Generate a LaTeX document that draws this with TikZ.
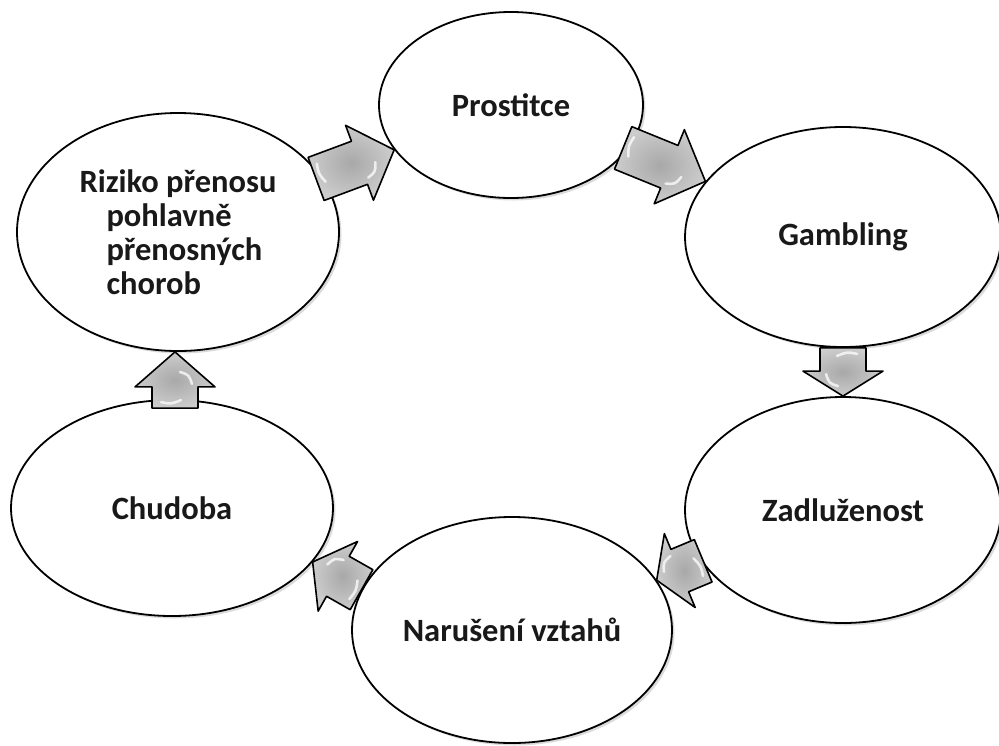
\documentclass[tikz,border=0pt]{standalone}
\usepackage{fontspec}
\setmainfont{Carlito}
\usetikzlibrary{shapes.geometric,calc,shadows}

\tikzset{
  bubble/.style={ellipse, draw=black, line width=1.8pt, fill=white, inner sep=0pt,
    drop shadow={shadow xshift=2.5pt, shadow yshift=-2.5pt, fill=black, opacity=.14},
    font=\bfseries\fontsize{32.5}{34}\selectfont, text=black!90},
  arrowbody/.style={draw=black, line width=1.6pt, line join=round,
    inner color=black!34, outer color=black!20},
  gloss/.style={draw=white, line width=2.6pt, line cap=round, opacity=.75}
}

% shaft and head half-widths of the block arrows
\def\baShaft{23}
\def\baHead{40}

% block arrow from coordinate #1 to coordinate #2,
% head length #3, tail pulled back by #4
\newcommand\blockarrow[4]{%
  \pgfmathanglebetweenpoints{\pgfpointanchor{#1}{center}}{\pgfpointanchor{#2}{center}}%
  \let\baAng\pgfmathresult
  \pgfpointdiff{\pgfpointanchor{#1}{center}}{\pgfpointanchor{#2}{center}}%
  \pgfgetlastxy{\baDx}{\baDy}%
  \pgfmathsetmacro\baLen{veclen(\baDx,\baDy)}%
  \pgfmathsetmacro\baNeck{\baLen-#3}%
  \begin{scope}[shift={(#1)}, rotate=\baAng]
    \draw[arrowbody] (-#4,\baShaft) -- (\baNeck,\baShaft) -- (\baNeck,\baHead)
      -- (\baLen,0) -- (\baNeck,-\baHead) -- (\baNeck,-\baShaft)
      -- (-#4,-\baShaft) -- cycle;
    % glossy highlights
    \draw[gloss] (6-#4,-14) .. controls (4-#4,-4) .. (8-#4,6);
    \draw[gloss] ({\baNeck+3},17) .. controls ({\baNeck+12},14) .. ({\baNeck+15},5);
  \end{scope}}

\begin{document}
\begin{tikzpicture}[x=1pt, y=-1pt]
  \useasboundingbox (0,0) rectangle (999,745);

  % the six stages of the cycle
  \node[bubble, minimum width=264, minimum height=186] (prostitce) at (511,105) {Prostitce};
  \node[bubble, minimum width=316, minimum height=220] (gambling) at (843,237) {Gambling};
  \node[bubble, minimum width=316, minimum height=226] (zadluzenost) at (843,510) {Zadluženost};
  \node[bubble, minimum width=320, minimum height=226] (naruseni) at (512,630) {Narušení vztahů};
  \node[bubble, minimum width=322, minimum height=216] (chudoba) at (172,508) {Chudoba};
  \node[bubble, minimum width=322, minimum height=238, align=left] (riziko) at (178,232)
    {Riziko přenosu\\\hspace*{27pt}pohlavně\\\hspace*{27pt}přenosných\\\hspace*{27pt}chorob};

  % arrow end points on the ellipse borders
  \coordinate (a1t) at (riziko.21);
  \coordinate (a1h) at (prostitce.201);
  \coordinate (a2t) at (prostitce.339);
  \coordinate (a2h) at (gambling.158);
  \coordinate (a3t) at (gambling.270);
  \coordinate (a3h) at (zadluzenost.90);
  \coordinate (a4t) at (zadluzenost.200);
  \coordinate (a4h) at (naruseni.19);
  \coordinate (a5t) at (naruseni.165);
  \coordinate (a5h) at (chudoba.339);
  \coordinate (a6t) at ($(chudoba.north)+(3,0)$);
  \coordinate (a6h) at ($(riziko.south)+(-3,0)$);

  \blockarrow{a1t}{a1h}{37}{6}
  \blockarrow{a2t}{a2h}{39}{5}
  \blockarrow{a3t}{a3h}{25}{0}
  \blockarrow{a4t}{a4h}{25}{2}
  \blockarrow{a5t}{a5h}{29}{0}
  \blockarrow{a6t}{a6h}{35}{9}
\end{tikzpicture}
\end{document}
